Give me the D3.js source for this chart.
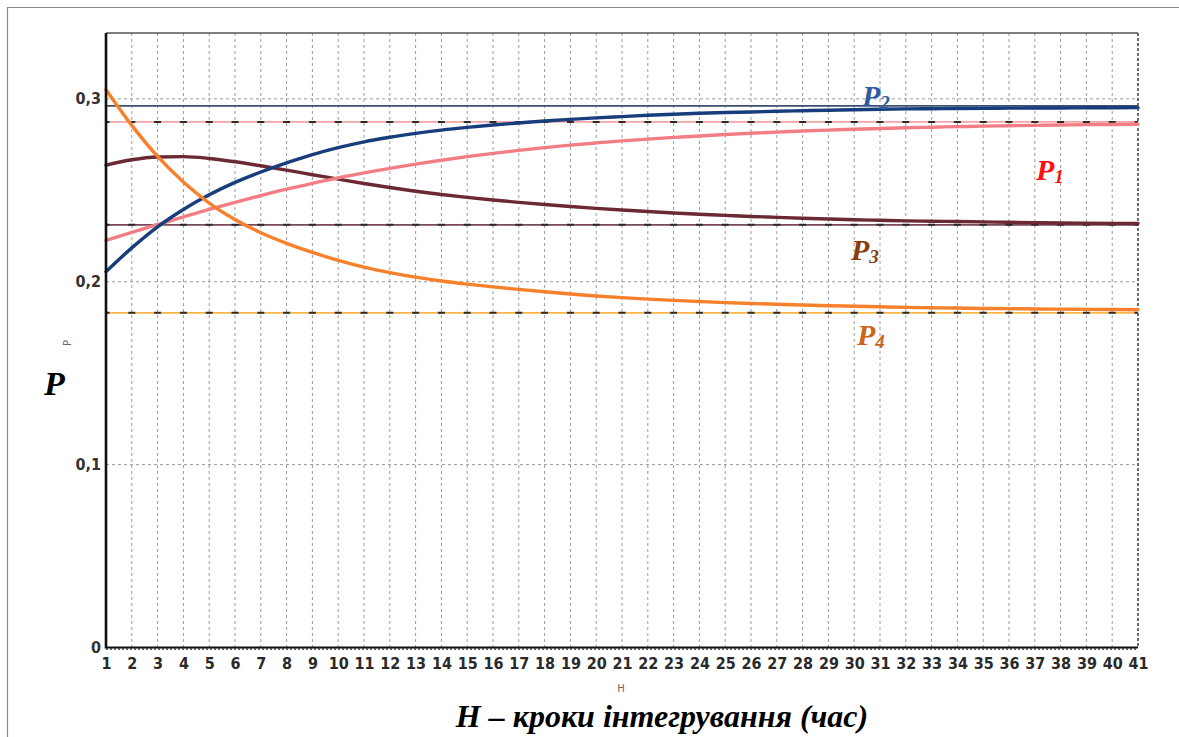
<!DOCTYPE html>
<html>
<head>
<meta charset="utf-8">
<script src="https://cdn.jsdelivr.net/npm/d3@7"></script>
<style>
  html, body { margin: 0; padding: 0; background: #fff; }
  svg { display: block; }
</style>
</head>
<body>
<svg id="chart" width="1179" height="737"></svg>
<script>
// ---------------- DATA ----------------
const steps = d3.range(1, 42); // H = 1..41
const xTickLabels = steps.map(String);
const yTickValues = [0, 0.1, 0.2, 0.3];
const yTickLabels = ["0", "0,1", "0,2", "0,3"];

const p1 = [0.2226, 0.2270, 0.2312, 0.2354, 0.2395, 0.2434, 0.2471, 0.2506, 0.2538, 0.2568,
            0.2595, 0.2620, 0.2643, 0.2664, 0.2684, 0.2702, 0.2718, 0.2733, 0.2747, 0.2759,
            0.2770, 0.2780, 0.2789, 0.2797, 0.2805, 0.2812, 0.2818, 0.2824, 0.2829, 0.2834,
            0.2838, 0.2842, 0.2845, 0.2848, 0.2851, 0.2853, 0.2855, 0.2857, 0.2859, 0.2860, 0.2861];
const p2 = [0.2055, 0.2185, 0.2300, 0.2395, 0.2475, 0.2543, 0.2600, 0.2650, 0.2695, 0.2733,
            0.2765, 0.2790, 0.2811, 0.2829, 0.2844, 0.2857, 0.2868, 0.2879, 0.2888, 0.2896,
            0.2903, 0.2910, 0.2916, 0.2921, 0.2925, 0.2928, 0.2932, 0.2935, 0.2938, 0.2940,
            0.2943, 0.2945, 0.2946, 0.2947, 0.2948, 0.2949, 0.2950, 0.2950, 0.2951, 0.2951, 0.2952];
const p3 = [0.2638, 0.2667, 0.2682, 0.2684, 0.2674, 0.2656, 0.2634, 0.2610, 0.2585, 0.2561,
            0.2537, 0.2515, 0.2495, 0.2477, 0.2461, 0.2447, 0.2434, 0.2422, 0.2411, 0.2401,
            0.2392, 0.2384, 0.2376, 0.2369, 0.2363, 0.2357, 0.2352, 0.2347, 0.2343, 0.2339,
            0.2336, 0.2333, 0.2331, 0.2329, 0.2327, 0.2325, 0.2323, 0.2321, 0.2320, 0.2319, 0.2318];
const p4 = [0.3050, 0.2855, 0.2685, 0.2545, 0.2430, 0.2340, 0.2268, 0.2210, 0.2160, 0.2117,
            0.2080, 0.2050, 0.2025, 0.2004, 0.1987, 0.1972, 0.1958, 0.1945, 0.1933, 0.1922,
            0.1913, 0.1905, 0.1898, 0.1892, 0.1886, 0.1881, 0.1877, 0.1873, 0.1869, 0.1866,
            0.1863, 0.1860, 0.1858, 0.1856, 0.1854, 0.1853, 0.1851, 0.1850, 0.1849, 0.1848, 0.1847];

// steady-state (limit) values
const limitNames = ["P1", "P2", "P3", "P4"];
const limitValues = [0.2874, 0.2962, 0.2311, 0.1830];

const seriesNames = ["P1", "P2", "P3", "P4"];
const seriesValues = [p1, p2, p3, p4];
const labelSubs = ["1", "2", "3", "4"];

// ---------------- STYLE ----------------
const curveColors = { P1: "#f27d84", P2: "#183d7c", P3: "#6b2933", P4: "#f7812b" };
const limitColors = { P1: "#f6a4a6", P2: "#3d4f6e", P3: "#7b4a58", P4: "#f8b64a" };
const limitDashed = { P1: true, P2: false, P3: true, P4: true };
const labelColors = { P1: "#ff1010", P2: "#2c5ba3", P3: "#8a3c10", P4: "#c9661c" };
const labelPos = { P1: [1036, 180], P2: [862, 106], P3: [851, 260], P4: [857, 345] };

const svg = d3.select("#chart");
const plotL = 106, plotR = 1138, plotT = 33, plotB = 647.5;

const x = d3.scaleLinear().domain([1, 41]).range([plotL, plotR]);
const y = d3.scaleLinear().domain([0, 0.336]).range([plotB, plotT]);

// outer frame
svg.append("path").attr("d", `M7.5,737 V7.5 H1179`).attr("fill", "none")
  .attr("stroke", "#8a8a8a").attr("stroke-width", 1.2);

// grid: vertical
svg.append("g").selectAll("line").data(steps.slice(1, -1)).join("line")
  .attr("x1", d => x(d)).attr("x2", d => x(d))
  .attr("y1", plotT).attr("y2", plotB)
  .attr("stroke", "#9a9a9a").attr("stroke-width", 1).attr("stroke-dasharray", "3,3");
// grid: horizontal
svg.append("g").selectAll("line").data(yTickValues.slice(1)).join("line")
  .attr("x1", plotL).attr("x2", plotR)
  .attr("y1", d => y(d)).attr("y2", d => y(d))
  .attr("stroke", "#9a9a9a").attr("stroke-width", 1).attr("stroke-dasharray", "3,3");

// top border + right dashed border
svg.append("line").attr("x1", plotL).attr("x2", plotR).attr("y1", plotT).attr("y2", plotT)
  .attr("stroke", "#555").attr("stroke-width", 1.5);
svg.append("line").attr("x1", plotR).attr("x2", plotR).attr("y1", plotT).attr("y2", plotB)
  .attr("stroke", "#222").attr("stroke-width", 1.3).attr("stroke-dasharray", "3,2");

// limit lines
const step = x(2) - x(1);
limitNames.forEach((n, i) => {
  const v = limitValues[i];
  svg.append("line").attr("x1", plotL).attr("x2", plotR).attr("y1", y(v)).attr("y2", y(v))
    .attr("stroke", limitColors[n]).attr("stroke-width", 1.8);
  if (limitDashed[n]) {
    svg.append("line").attr("x1", plotL).attr("x2", plotR).attr("y1", y(v)).attr("y2", y(v))
      .attr("stroke", "#2a2a2a").attr("stroke-width", 2)
      .attr("stroke-dasharray", `7,${step - 7}`).attr("stroke-dashoffset", 3.5);
  }
});

// curves
const line = d3.line().x((d, i) => x(steps[i])).y(d => y(d)).curve(d3.curveMonotoneX);
// draw in order: P3, P1, P2, P4
[2, 0, 1, 3].forEach(i => {
  const n = seriesNames[i];
  svg.append("path").datum(seriesValues[i]).attr("d", line)
    .attr("fill", "none").attr("stroke", curveColors[n]).attr("stroke-width", 3.4)
    .attr("stroke-linejoin", "round").attr("stroke-linecap", "round");
});

// axes
const tickFont = "'Liberation Sans Narrow', 'DejaVu Sans Condensed', 'Arial Narrow', sans-serif";
const xAxis = svg.append("g").attr("transform", `translate(0,${plotB})`)
  .call(d3.axisBottom(x).tickValues(steps).tickFormat((d, i) => xTickLabels[i]).tickSize(0).tickPadding(10));
xAxis.select(".domain").remove();
xAxis.selectAll("text").attr("font-family", tickFont).attr("font-weight", "bold")
  .attr("font-size", 16).attr("fill", "#2a2a2a");

const yAxis = svg.append("g").attr("transform", `translate(${plotL},0)`)
  .call(d3.axisLeft(y).tickValues(yTickValues).tickFormat((d, i) => yTickLabels[i]).tickSize(0).tickPadding(5));
yAxis.select(".domain").remove();
yAxis.selectAll("text").attr("font-family", tickFont).attr("font-weight", "bold")
  .attr("font-size", 16).attr("fill", "#333");

// left axis line and bottom axis line
svg.append("line").attr("x1", plotL).attr("x2", plotL).attr("y1", plotT).attr("y2", plotB + 1)
  .attr("stroke", "#111").attr("stroke-width", 2.6);
svg.append("line").attr("x1", plotL).attr("x2", plotR).attr("y1", plotB).attr("y2", plotB)
  .attr("stroke", "#111").attr("stroke-width", 2);
svg.append("line").attr("x1", plotL).attr("x2", plotR).attr("y1", plotB + 1.5).attr("y2", plotB + 1.5)
  .attr("stroke", "#333").attr("stroke-width", 1.5).attr("stroke-dasharray", "2,2");

// small axis names
svg.append("text").attr("transform", "translate(71,343) rotate(-90)")
  .attr("text-anchor", "middle").attr("font-family", "'DejaVu Sans', sans-serif")
  .attr("font-size", 10).attr("fill", "#666").text("P");
svg.append("text").attr("x", 621).attr("y", 692)
  .attr("text-anchor", "middle").attr("font-family", "'DejaVu Sans', sans-serif")
  .attr("font-size", 10).attr("fill", "#666").text("H");

// big axis titles
const serif = "'Liberation Serif', 'Times New Roman', serif";
svg.append("text").attr("x", 44).attr("y", 395)
  .attr("font-family", serif).attr("font-weight", "bold").attr("font-style", "italic")
  .attr("font-size", 34).attr("fill", "#000").text("P");
svg.append("text").attr("x", 662).attr("y", 727).attr("text-anchor", "middle")
  .attr("font-family", serif).attr("font-weight", "bold").attr("font-style", "italic")
  .attr("font-size", 32).attr("fill", "#000").text("H – кроки інтегрування (час)");

// series labels
seriesNames.forEach((n, i) => {
  const [lx, ly] = labelPos[n];
  const t = svg.append("text").attr("x", lx).attr("y", ly)
    .attr("font-family", serif).attr("font-weight", "bold").attr("font-style", "italic")
    .attr("font-size", 30).attr("fill", labelColors[n]);
  t.append("tspan").text("P");
  t.append("tspan").attr("font-size", 19).attr("dy", 3).text(labelSubs[i]);
});
</script>
</body>
</html>
